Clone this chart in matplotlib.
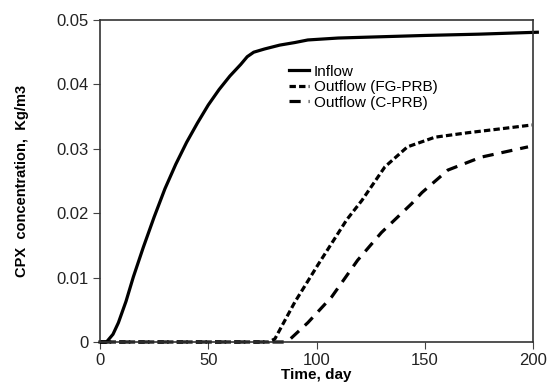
import matplotlib
matplotlib.use("Agg")
from matplotlib import pyplot as plt

# data
t_in = [0, 3, 6, 8.5, 12, 15.4, 20, 25, 30, 35, 40, 45, 50, 55, 60, 65, 68, 71, 76, 83, 90, 96, 110, 130, 150, 175, 202]
c_in = [0, 0, 0.0012, 0.003, 0.0063, 0.0101, 0.0147, 0.0194, 0.0238, 0.0276, 0.031, 0.034, 0.0368, 0.0392, 0.0413, 0.0431, 0.0443, 0.045, 0.0455, 0.0461, 0.0465, 0.0469, 0.0472, 0.0474, 0.0476, 0.0478, 0.0481]

t_fg = [0, 78, 80.8, 90, 100.7, 114, 121, 131.6, 142, 154.7, 170, 185, 199.5]
c_fg = [0, 0, 0.0005, 0.0062, 0.012, 0.019, 0.022, 0.0272, 0.0303, 0.0318, 0.0325, 0.0331, 0.0337]

t_c = [0, 85, 88, 96, 107, 119, 130, 144, 148.7, 160.7, 176, 197.7]
c_c = [0, 0, 0.0005, 0.003, 0.007, 0.0127, 0.017, 0.0215, 0.0232, 0.0267, 0.0287, 0.0303]

plt.rcParams['font.family'] = ['Liberation Sans', 'DejaVu Sans']
fig = plt.figure(figsize=(5.5, 3.85), dpi=100)
ax = fig.add_axes([100/550, 1 - 342/385, 433/550, 322/385])

ax.plot(t_in, c_in, color='black', lw=2.3, label='Inflow', clip_on=False)
ax.plot(t_fg, c_fg, color='black', lw=2.3, ls=(0, (2, 1)), label='Outflow (FG-PRB)', clip_on=False)
ax.plot(t_c, c_c, color='black', lw=2.3, ls=(0, (3.5, 2.5)), label='Outflow (C-PRB)', clip_on=False)

ax.set_xlim(0, 200)
ax.set_ylim(0, 0.05)
ax.set_xticks([0, 50, 100, 150, 200])
ax.set_xticklabels(['0', '50', '100', '150', '200'])
ax.set_yticks([0, 0.01, 0.02, 0.03, 0.04, 0.05])
ax.set_yticklabels(['0', '0.01', '0.02', '0.03', '0.04', '0.05'])
ax.tick_params(labelsize=12, length=5, width=0.8, pad=3, colors='#444444', labelcolor='#222222')
for s in ax.spines.values():
    s.set_linewidth(1.2)
    s.set_color('#333333')

ax.set_xlabel('Time, day', fontsize=11, fontweight='bold', labelpad=0)
ax.set_ylabel('CPX  concentration,  Kg/m3', fontsize=10.5, fontweight='bold', labelpad=20)

ax.legend(loc='upper left', bbox_to_anchor=(0.42, 0.885), frameon=False, fontsize=11,
          handlelength=1.3, handletextpad=0.3, labelspacing=0.1, borderpad=0)

fig.savefig('out.png', dpi=100)
